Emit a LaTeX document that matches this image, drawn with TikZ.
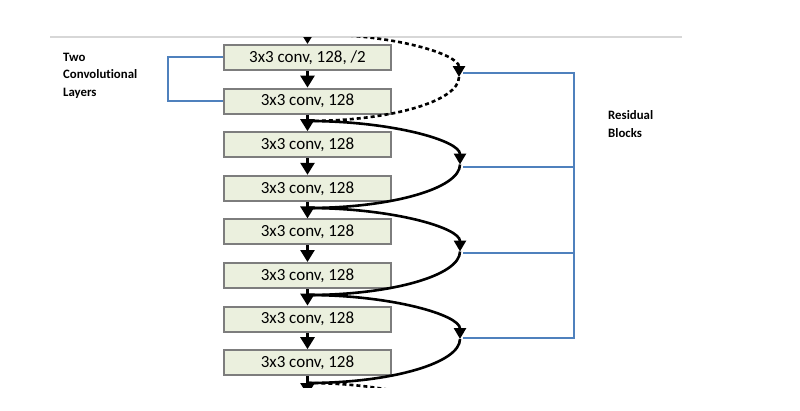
\documentclass[tikz,border=0pt]{standalone}
\usepackage{fontspec}
\setmainfont{Carlito}[Ligatures=NoCommon]
\usetikzlibrary{arrows.meta,calc}
\definecolor{boxfill}{RGB}{235,240,222}
\definecolor{boxline}{RGB}{125,125,125}
\definecolor{bblue}{RGB}{79,129,189}
\definecolor{rulegray}{RGB}{215,215,215}
\begin{document}
\begin{tikzpicture}[x=1pt,y=-1pt,
  layer/.style={draw=boxline, line width=2pt, fill=boxfill, minimum width=167pt,
    minimum height=25pt, inner sep=0pt, font=\fontsize{17}{19}\selectfont},
  flow/.style={line width=2.6pt, -{Triangle[length=12pt,width=14pt]}},
  skip/.style={line width=2.6pt},
  skiptip/.style={line width=2.6pt, -{Triangle[length=11pt,width=12pt]}},
  dashskip/.style={dash pattern=on 4pt off 3pt},
  bracket/.style={draw=bblue, line width=2pt},
  lbl/.style={font=\fontsize{12.8}{14}\selectfont\bfseries, anchor=base west, inner sep=0pt}]
\useasboundingbox (0,0) rectangle (800,410);
\fill[white] (0,0) rectangle (800,410);

% top rule
\coordinate (ruleL) at (50,37);
\coordinate (ruleR) at (682,37);
\draw[rulegray, line width=1.2pt] (ruleL) -- (ruleR);

% layer boxes
\node[layer] (b1) at (307.5,57.5) {3x3 conv, 128, /2};
\node[layer] (b2) at (307.5,101.1) {3x3 conv, 128};
\node[layer] (b3) at (307.5,144.7) {3x3 conv, 128};
\node[layer] (b4) at (307.5,188.3) {3x3 conv, 128};
\node[layer] (b5) at (307.5,231.9) {3x3 conv, 128};
\node[layer] (b6) at (307.5,275.5) {3x3 conv, 128};
\node[layer] (b7) at (307.5,319.1) {3x3 conv, 128};
\node[layer] (b8) at (307.5,362.7) {3x3 conv, 128};

% junctions and apexes
\coordinate (j0) at (307.5,34);
\coordinate (j1) at (307.5,121);
\coordinate (j2) at (307.5,208);
\coordinate (j3) at (307.5,295);
\coordinate (j4) at (307.5,383);
\coordinate (a1) at (459,77);
\coordinate (a2) at (460,164.5);
\coordinate (a3) at (460,251.5);
\coordinate (a4) at (460,339);
\coordinate (a5) at (460,426.5);
\coordinate (top) at (307.5,20);
\coordinate (next) at (307.5,395);

\begin{scope}
  \clip (0,37.6) rectangle (800,387);
  % main flow
  \draw[flow] (top) -- (b1.north);
  \draw[flow] (b1.south) -- (b2.north);
  \draw[flow] (b2.south) -- (b3.north);
  \draw[flow] (b3.south) -- (b4.north);
  \draw[flow] (b4.south) -- (b5.north);
  \draw[flow] (b5.south) -- (b6.north);
  \draw[flow] (b6.south) -- (b7.north);
  \draw[flow] (b7.south) -- (b8.north);
  \draw[flow] (b8.south) -- (next);
  % skip connections
  \draw[skiptip, dashskip] (j0) .. controls +(90,0) and +(0,-22) .. (a1);
  \draw[skip, dashskip] (a1) .. controls +(0,24) and +(84,0) .. (j1);
  \draw[skiptip] (j1) .. controls +(84,0) and +(0,-24) .. (a2);
  \draw[skip] (a2) .. controls +(0,24) and +(84,0) .. (j2);
  \draw[skiptip] (j2) .. controls +(84,0) and +(0,-24) .. (a3);
  \draw[skip] (a3) .. controls +(0,24) and +(84,0) .. (j3);
  \draw[skiptip] (j3) .. controls +(84,0) and +(0,-24) .. (a4);
  \draw[skip] (a4) .. controls +(0,24) and +(84,0) .. (j4);
  \draw[skip, dashskip] (j4) .. controls +(70,0) and +(0,-28) .. (a5);
\end{scope}

% residual block bracket
\coordinate (r1) at (574,73);
\coordinate (r2) at (574,167);
\coordinate (r3) at (574,253);
\coordinate (r4) at (574,338);
\coordinate (s1) at (463,73);
\coordinate (s2) at (463,167);
\coordinate (s3) at (463,253);
\coordinate (s4) at (463,338);
\draw[bracket] (s1) -- (r1) -- (r4) -- (s4);
\draw[bracket] (s2) -- (r2);
\draw[bracket] (s3) -- (r3);

% two conv layers bracket
\coordinate (k1) at (168,57);
\coordinate (k2) at (168,101);
\draw[bracket] (b1.west |- k1) -- (k1) -- (k2) -- (b2.west |- k2);

% labels
\node[lbl] (t1) at (63,61) {Two};
\node[lbl] (t2) at (63,78.5) {Convolutional};
\node[lbl] (t3) at (63,96) {Layers};
\node[lbl] (t4) at (608,119) {Residual};
\node[lbl] (t5) at (608,137) {Blocks};
\end{tikzpicture}
\end{document}
